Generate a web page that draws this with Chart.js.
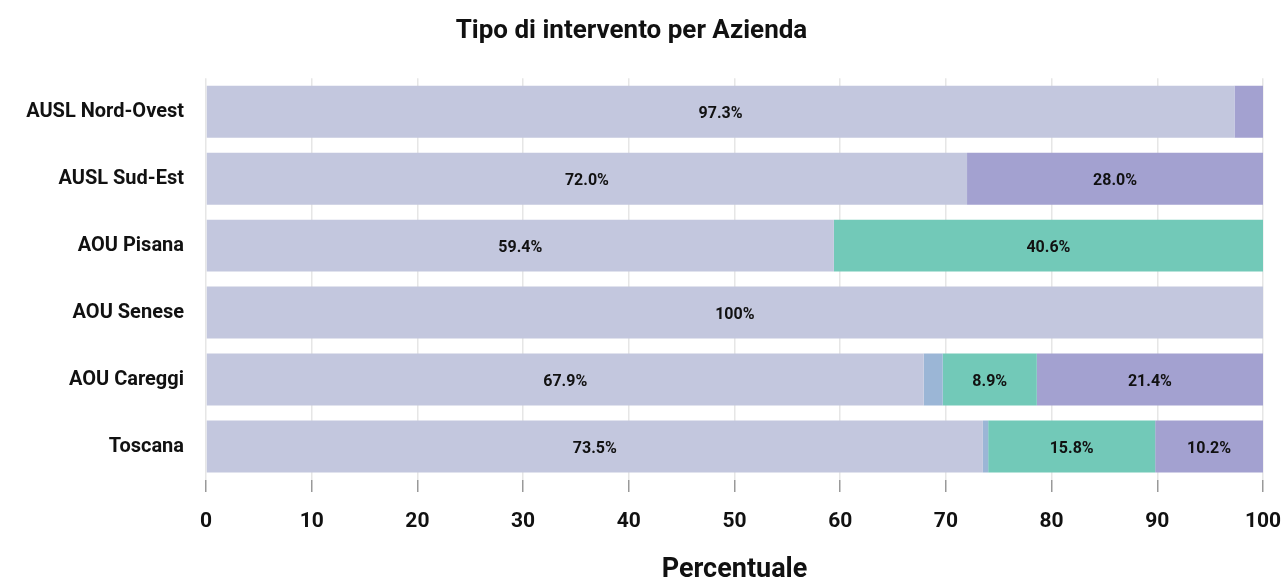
<!DOCTYPE html>
<html>
<head>
<meta charset="utf-8">
<script src="https://cdn.jsdelivr.net/npm/chart.js@4/dist/chart.umd.min.js"></script>
<style>
  html, body { margin: 0; padding: 0; background: #fff; }
  #wrap { width: 1281px; height: 584px; }
</style>
</head>
<body>
<div id="wrap"><canvas id="interventiChart"></canvas></div>
<script>
var aziende = ['AUSL Nord-Ovest', 'AUSL Sud-Est', 'AOU Pisana', 'AOU Senese', 'AOU Careggi', 'Toscana'];

var tipo1 = [97.3, 72.0, 59.4, 100, 67.9, 73.5];
var tipo2 = [0, 0, 0, 0, 1.8, 0.5];
var tipo3 = [0, 0, 40.6, 0, 8.9, 15.8];
var tipo4 = [2.7, 28.0, 0, 0, 21.4, 10.2];

var xTicks = [0, 10, 20, 30, 40, 50, 60, 70, 80, 90, 100];

var fontName = 'Roboto, "Liberation Sans", sans-serif';

// etichette percentuali dentro le barre (solo se il segmento e' abbastanza largo)
var barLabels = {
  id: 'barLabels',
  afterDatasetsDraw: function (chart) {
    var ctx = chart.ctx;
    ctx.save();
    ctx.font = 'bold 16px ' + fontName;
    ctx.fillStyle = '#111';
    ctx.textAlign = 'center';
    ctx.textBaseline = 'middle';
    chart.data.datasets.forEach(function (ds, i) {
      var meta = chart.getDatasetMeta(i);
      meta.data.forEach(function (bar, j) {
        var v = ds.data[j];
        if (v < 5) return;
        var txt = v === 100 ? '100%' : v.toFixed(1) + '%';
        var cx = (bar.x + bar.base) / 2;
        ctx.fillText(txt, cx, bar.y + 2);
      });
    });
    ctx.restore();
  }
};

var myChart = new Chart(document.getElementById('interventiChart'), {
  type: 'bar',
  data: {
    labels: aziende,
    datasets: [
      { label: 'Tipo 1', data: tipo1, backgroundColor: '#c3c7de' },
      { label: 'Tipo 2', data: tipo2, backgroundColor: '#9bb6d6' },
      { label: 'Tipo 3', data: tipo3, backgroundColor: '#72c9b8' },
      { label: 'Tipo 4', data: tipo4, backgroundColor: '#a3a1d0' }
    ]
  },
  options: {
    indexAxis: 'y',
    responsive: true,
    maintainAspectRatio: false,
    animation: false,
    barPercentage: 0.97,
    categoryPercentage: 0.8,
    layout: { padding: { left: 0, right: 18, top: 0, bottom: 0 } },
    plugins: {
      legend: { display: false },
      tooltip: { enabled: false },
      title: {
        display: true,
        text: 'Tipo di intervento per Azienda',
        color: '#111',
        font: { family: fontName, size: 26, weight: 'bold' },
        padding: { top: 16, bottom: 31 }
      }
    },
    scales: {
      x: {
        stacked: true,
        min: 0,
        max: 100,
        afterBuildTicks: function (axis) {
          axis.ticks = xTicks.map(function (v) { return { value: v }; });
        },
        afterFit: function (scale) {
          scale.height = 104;
          scale.paddingLeft = 0;
          scale.paddingRight = 1;
        },
        border: { display: false },
        grid: {
          color: '#e6e6e6',
          tickColor: '#999',
          tickLength: 12,
          lineWidth: 1.5
        },
        ticks: {
          color: '#111',
          padding: 17,
          font: { family: fontName, size: 21, weight: 'bold' }
        },
        title: {
          display: true,
          text: 'Percentuale',
          color: '#111',
          font: { family: fontName, size: 27, weight: 'bold', lineHeight: 1 },
          padding: { top: 0, bottom: 0 }
        }
      },
      y: {
        stacked: true,
        afterFit: function (scale) {
          scale.width = 206;
        },
        border: { display: false },
        grid: { display: false },
        ticks: {
          color: '#111',
          padding: 14,
          font: { family: fontName, size: 20, weight: 'bold' }
        }
      }
    }
  },
  plugins: [barLabels]
});
</script>
</body>
</html>
